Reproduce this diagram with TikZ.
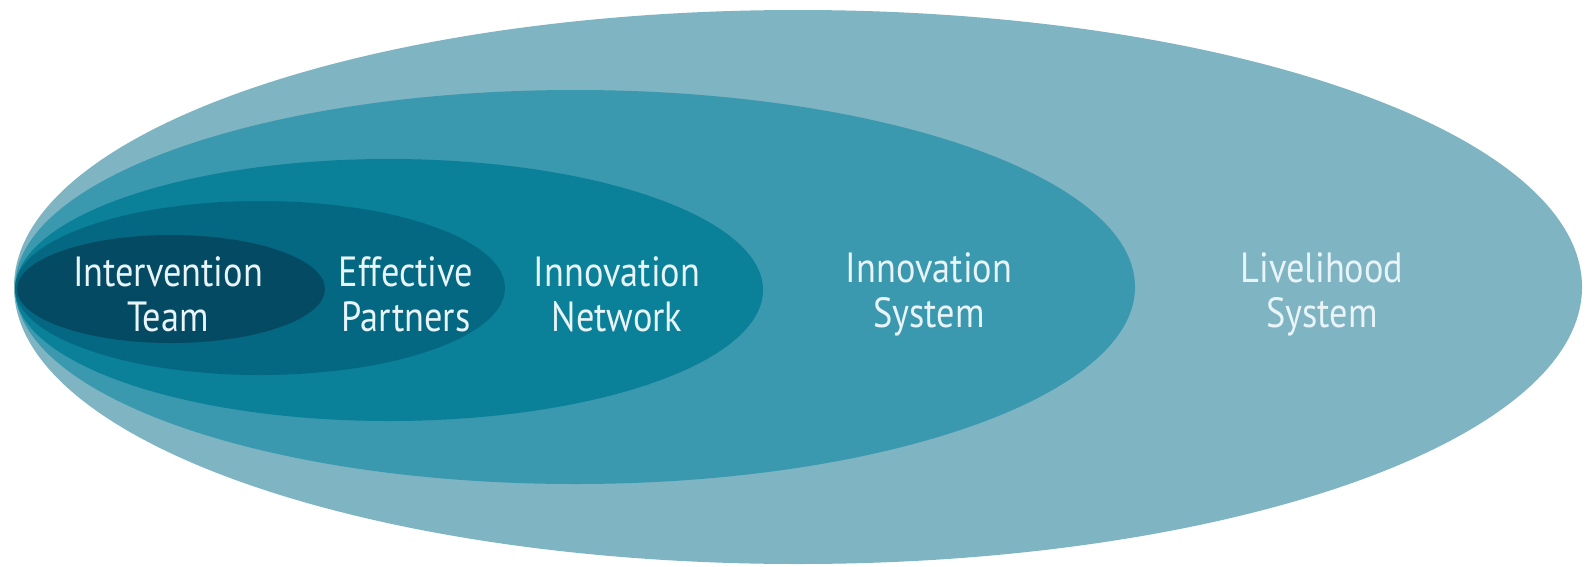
\documentclass[tikz,border=0pt]{standalone}
\usepackage{fontspec}
\setsansfont{PT Sans}[FakeStretch=0.86]
\usepackage{tikz}

\definecolor{livelihood}{HTML}{7FB4C3}
\definecolor{insystem}{HTML}{3A99AE}
\definecolor{innetwork}{HTML}{0A8199}
\definecolor{partners}{HTML}{056883}
\definecolor{team}{HTML}{044A63}
\definecolor{labeltext}{HTML}{E8F4F8}

\begin{document}
\begin{tikzpicture}[x=0.01cm, y=0.01cm,
    layer/.style={draw=none},
    lbl/.style={text=labeltext, align=center, inner sep=0pt,
      font=\sffamily\fontsize{12}{12.8}\selectfont}]
    \useasboundingbox (0,0) rectangle (1595,566);

    % nested ellipses, outermost first
    \fill[layer, livelihood] (798,279) ellipse [x radius=784, y radius=277];
    \fill[layer, insystem] (575,279) ellipse [x radius=560, y radius=197];
    \fill[layer, innetwork] (389,276) ellipse [x radius=374, y radius=131];
    \fill[layer, partners] (260,278) ellipse [x radius=245, y radius=87];
    \fill[layer, team] (171,277) ellipse [x radius=154, y radius=54];

    \node[lbl] (Team) at (168,272) {Intervention\\Team};
    \node[lbl] (Partners) at (406,272) {Effective\\Partners};
    \node[lbl] (Network) at (617,272) {Innovation\\Network};
    \node[lbl] (System) at (929,272) {Innovation\\System};
    \node[lbl] (Livelihood) at (1322,272) {Livelihood\\System};
  \end{tikzpicture}
\end{document}
